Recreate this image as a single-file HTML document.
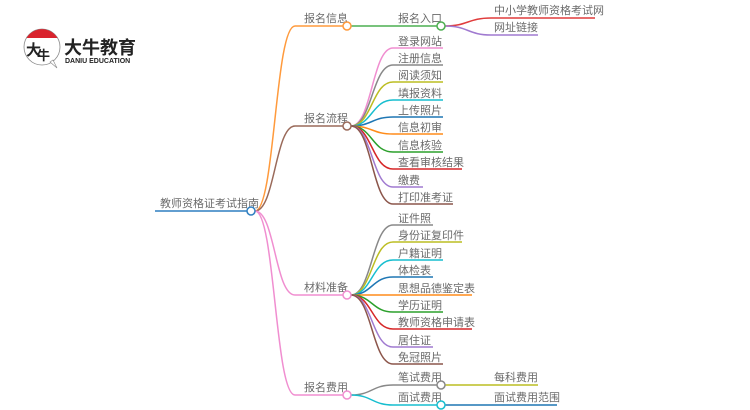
<!DOCTYPE html>
<html><head><meta charset="utf-8"><style>
html,body{margin:0;padding:0;background:#fff;width:750px;height:410px;overflow:hidden}
svg{display:block}
text{font-family:"Liberation Sans","Noto Sans CJK SC",sans-serif;font-size:11px;fill:#6a6a6a}
</style></head><body>
<svg width="750" height="410" viewBox="0 0 750 410" xmlns="http://www.w3.org/2000/svg" fill="none" stroke-width="1.5">
<!-- logo -->
<circle cx="42" cy="47" r="18" stroke="#888" stroke-width="0.8" fill="#fff"/>
<path d="M26.5 38 A18 18 0 0 1 57.5 38 Z" fill="#d9232d" stroke="none"/>
<path d="M50 62 L57 68 L53 60 Z" fill="#fff" stroke="#888" stroke-width="0.6"/>
<text x="26" y="55" style="font-size:15px;fill:#222;font-weight:bold">大</text>
<text x="37" y="60" style="font-size:13px;fill:#222;font-weight:bold">牛</text>
<text x="64" y="54" style="font-size:18px;fill:#222;font-weight:bold">大牛教育</text>
<text x="65" y="63" style="font-size:7px;fill:#222;font-weight:bold">DANIU EDUCATION</text>

<!-- root -->
<path d="M155 211 H247" stroke="#2f7fc1"/>
<text x="160" y="207">教师资格证考试指南</text>
<path d="M255 211 C275 211 275 26 295 26 H343" stroke="#ff9a3c"/>
<path d="M255 211 C275 211 275 126 295 126 H343" stroke="#9a6a5a"/>
<path d="M255 211 C275 211 275 295 295 295 H343" stroke="#f08ed0"/>
<path d="M255 211 C275 211 275 395 295 395 H343" stroke="#f08ed0"/>
<circle cx="251" cy="211" r="4" stroke="#2f7fc1" fill="#fff"/>
<text x="304" y="22">报名信息</text>
<text x="304" y="122">报名流程</text>
<text x="304" y="291">材料准备</text>
<text x="304" y="391">报名费用</text>

<!-- 报名信息 -->
<path d="M351 26 H437" stroke="#4caf50"/>
<circle cx="347" cy="26" r="4" stroke="#ff9a3c" fill="#fff"/>
<text x="398" y="22">报名入口</text>
<path d="M445 26 C468 26 468 18 491 18 H595" stroke="#e03c3c"/>
<path d="M445 26 C468 26 468 35 491 35 H538" stroke="#a07ad0"/>
<circle cx="441" cy="26" r="4" stroke="#4caf50" fill="#fff"/>
<text x="494" y="14">中小学教师资格考试网</text>
<text x="494" y="31">网址链接</text>

<!-- 报名流程 -->
<g>
<path d="M351 126 C372 126 372 48 393 48 H443" stroke="#f08ed0"/>
<path d="M351 126 C372 126 372 65 393 65 H443" stroke="#888"/>
<path d="M351 126 C372 126 372 82 393 82 H443" stroke="#bcbd22"/>
<path d="M351 126 C372 126 372 100 393 100 H443" stroke="#17becf"/>
<path d="M351 126 C372 126 372 117 393 117 H443" stroke="#1f77b4"/>
<path d="M351 126 C372 126 372 134 393 134 H443" stroke="#ff8c1a"/>
<path d="M351 126 C372 126 372 152 393 152 H443" stroke="#2ca02c"/>
<path d="M351 126 C372 126 372 169 393 169 H462" stroke="#d62728"/>
<path d="M351 126 C372 126 372 187 393 187 H423" stroke="#a07ad0"/>
<path d="M351 126 C372 126 372 204 393 204 H453" stroke="#8c564b"/>
</g>
<circle cx="347" cy="126" r="4" stroke="#9a6a5a" fill="#fff"/>
<text x="398" y="45">登录网站</text>
<text x="398" y="62">注册信息</text>
<text x="398" y="79">阅读须知</text>
<text x="398" y="97">填报资料</text>
<text x="398" y="114">上传照片</text>
<text x="398" y="131">信息初审</text>
<text x="398" y="149">信息核验</text>
<text x="398" y="166">查看审核结果</text>
<text x="398" y="184">缴费</text>
<text x="398" y="201">打印准考证</text>

<!-- 材料准备 -->
<g>
<path d="M351 295 C372 295 372 225 393 225 H433" stroke="#888"/>
<path d="M351 295 C372 295 372 242 393 242 H462" stroke="#bcbd22"/>
<path d="M351 295 C372 295 372 260 393 260 H443" stroke="#17becf"/>
<path d="M351 295 C372 295 372 277 393 277 H433" stroke="#1f77b4"/>
<path d="M351 295 C372 295 372 295 393 295 H472" stroke="#ff8c1a"/>
<path d="M351 295 C372 295 372 312 393 312 H443" stroke="#2ca02c"/>
<path d="M351 295 C372 295 372 329 393 329 H472" stroke="#d62728"/>
<path d="M351 295 C372 295 372 347 393 347 H433" stroke="#a07ad0"/>
<path d="M351 295 C372 295 372 364 393 364 H443" stroke="#8c564b"/>
</g>
<circle cx="347" cy="295" r="4" stroke="#f08ed0" fill="#fff"/>
<text x="398" y="222">证件照</text>
<text x="398" y="239">身份证复印件</text>
<text x="398" y="257">户籍证明</text>
<text x="398" y="274">体检表</text>
<text x="398" y="292">思想品德鉴定表</text>
<text x="398" y="309">学历证明</text>
<text x="398" y="326">教师资格申请表</text>
<text x="398" y="344">居住证</text>
<text x="398" y="361">免冠照片</text>

<!-- 报名费用 -->
<path d="M351 395 C372 395 372 385 393 385 H437" stroke="#888"/>
<path d="M351 395 C372 395 372 405 393 405 H437" stroke="#17becf"/>
<circle cx="347" cy="395" r="4" stroke="#f08ed0" fill="#fff"/>
<text x="398" y="381">笔试费用</text>
<text x="398" y="401">面试费用</text>
<path d="M445 385 H538" stroke="#bcbd22"/>
<path d="M445 405 H557" stroke="#1f77b4"/>
<circle cx="441" cy="385" r="4" stroke="#888" fill="#fff"/>
<circle cx="441" cy="405" r="4" stroke="#17becf" fill="#fff"/>
<text x="494" y="381">每科费用</text>
<text x="494" y="401">面试费用范围</text>
</svg>
</body></html>
